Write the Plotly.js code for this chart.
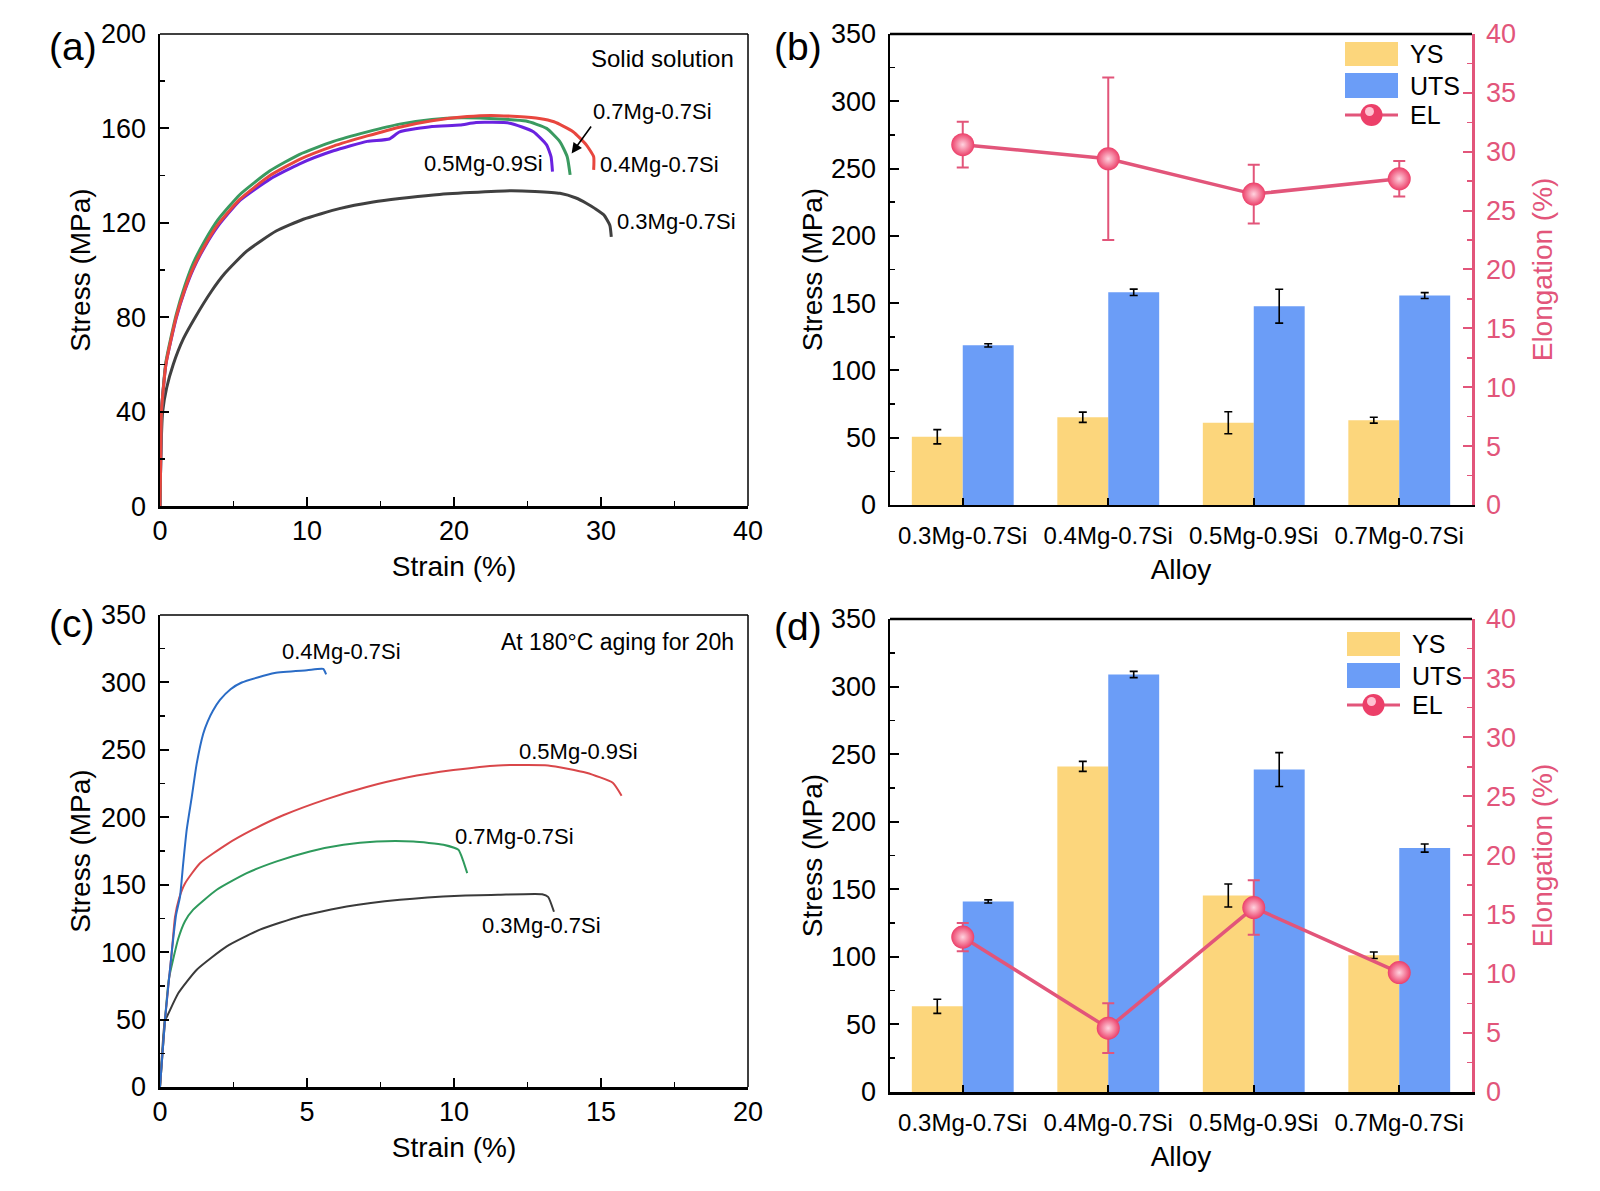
<!DOCTYPE html>
<html>
<head>
<meta charset="utf-8">
<script src="https://cdn.plot.ly/plotly-3.0.1.min.js"></script>
<style>
  html, body { margin: 0; padding: 0; background: #fff; }
  #chart { width: 1600px; height: 1191px; }
</style>
</head>
<body>
<div id="chart"></div>
<script>
// ---- (a) solid solution stress-strain curves ----
var aGrayX = [0, 0.05, 0.18, 0.45, 0.9, 1.6, 2.4, 3.5, 4.4, 5.9, 7.9, 9.75, 12.2, 14.5, 16.3, 18.6, 21.1, 23.8, 25.5, 27.2, 28.3, 29.0, 29.6, 30.2, 30.6, 30.7];
var aGrayY = [0, 20, 40, 50, 60, 71, 80, 91, 98.5, 108, 116.5, 121.5, 126, 128.8, 130.3, 131.8, 132.8, 133.6, 133.3, 132.5, 130.5, 128.3, 126, 123.3, 119, 114];

var aPurpleX = [0, 0.05, 0.1, 0.4, 1.1, 1.7, 2.27, 3.06, 3.97, 5.44, 7.48, 9.5, 11.8, 14.1, 15.6, 16.3, 18.5, 20.4, 21.5, 23.8, 25.4, 26.3, 26.6, 26.7];
var aPurpleY = [0, 20, 40, 60, 79.5, 91.5, 100.5, 110, 118.8, 129.5, 138.5, 145, 150.5, 154.5, 155.5, 158.5, 160.8, 161.4, 162.5, 162.2, 158.6, 153, 148, 141.7];

var aGreenX = [0, 0.05, 0.1, 0.4, 1.1, 1.7, 2.27, 3.06, 3.97, 5.44, 7.48, 9.5, 11.8, 14.1, 16.3, 18.5, 20.5, 23.1, 24.9, 26.3, 27.2, 27.7, 27.9];
var aGreenY = [0, 20, 40, 61, 81, 93.5, 103, 112.5, 121.5, 132, 142, 149, 154.5, 158.5, 161.8, 163.8, 164.5, 164, 163.1, 160, 154.4, 148, 140.3];

var aRedX = [0, 0.05, 0.1, 0.4, 1.1, 1.7, 2.27, 3.06, 3.97, 5.44, 7.48, 9.5, 11.8, 14.1, 16.3, 18.5, 20.9, 22.5, 24.3, 25.8, 26.8, 28.1, 29.0, 29.5, 29.5];
var aRedY = [0, 20, 40, 60, 80, 92, 101, 110.5, 119.5, 130, 140, 146.9, 152.5, 156.8, 160.5, 163.2, 165, 165.5, 165, 164.2, 162.8, 158.6, 153, 148, 142.4];

// ---- (c) aged at 180 C for 20 h ----
var cGrayX = [0, 0.17, 0.23, 0.62, 1.25, 2.27, 3.4, 4.76, 6.35, 8.16, 10.2, 11.5, 13.0, 13.2, 13.4];
var cGrayY = [0, 50, 52, 69.5, 87, 104.3, 116.7, 126.5, 133.9, 138.9, 141.9, 142.6, 143, 141, 130];

var cGreenX = [0, 0.17, 0.3, 0.45, 0.62, 0.85, 1.13, 1.93, 2.95, 3.97, 5.1, 6.24, 7.37, 8.62, 9.64, 10.15, 10.3, 10.45];
var cGreenY = [0, 50, 80, 95, 110, 123, 131.5, 146.3, 158.6, 167.3, 174.7, 179.6, 182, 182, 179.6, 175.9, 168.5, 158.6];

var cRedX = [0, 0.17, 0.4, 0.51, 0.65, 0.85, 1.36, 2.27, 3.17, 4.19, 5.67, 7.03, 8.39, 9.98, 11.5, 13.2, 14.5, 15.4, 15.7];
var cRedY = [0, 50, 100, 126, 140, 151, 166, 180, 191, 201.5, 213.5, 222.5, 229.5, 235, 238.5, 238.5, 233, 225.6, 216];

var cBlueX = [0, 0.17, 0.4, 0.55, 0.68, 0.79, 0.91, 1.08, 1.25, 1.47, 1.62, 1.8, 2.04, 2.4, 2.78, 3.9, 5.0, 5.55, 5.65];
var cBlueY = [0, 50, 100, 128, 141, 166, 191, 215, 240, 262, 271, 279, 287, 295, 300, 307, 309, 310, 306];

// ---- (b), (d) bar data ----
var alloys = ["0.3Mg-0.7Si", "0.4Mg-0.7Si", "0.5Mg-0.9Si", "0.7Mg-0.7Si"];

var bYS = [50.7, 65.2, 61.1, 63];
var bYSErr = [5.3, 3.8, 8.2, 2.2];
var bUTS = [118.6, 158, 147.7, 155.6];
var bUTSErr = [1.2, 2.4, 12.6, 2.2];
var bEL = [30.6, 29.4, 26.4, 27.7];
var bELErr = [1.95, 6.9, 2.5, 1.5];

var dYS = [63.4, 240.9, 145.4, 101.2];
var dYSErr = [5.2, 3.7, 8.5, 2.4];
var dUTS = [141, 308.9, 238.6, 180.5];
var dUTSErr = [1.2, 2.3, 12.5, 3];
var dEL = [13.1, 5.4, 15.6, 10.1];
var dELErr = [1.2, 2.1, 2.3, 0.6];

var W = 1600, H = 1191;
var FONT = "Liberation Sans, Arial, sans-serif";
var YS_COL = "#fcd67c", UTS_COL = "#6b9df7", EL_COL = "#e2557a";

function px(x) { return x / W; }
function py(y) { return 1 - y / H; }

function curve(x, y, color, w, xa, ya) {
  return { x: x, y: y, type: "scatter", mode: "lines", xaxis: xa, yaxis: ya,
           line: { color: color, width: w, shape: "spline", smoothing: 0.5 },
           showlegend: false, hoverinfo: "skip" };
}

function bars(y, err, color, xa, ya) {
  return { x: alloys, y: y, type: "bar", xaxis: xa, yaxis: ya,
           marker: { color: color, line: { width: 0 } },
           error_y: { type: "data", array: err, visible: true, color: "#000", thickness: 1.6, width: 4 },
           showlegend: false, hoverinfo: "skip" };
}

function elong(y, err, xa, ya) {
  return { x: alloys, y: y, type: "scatter", mode: "lines+markers", xaxis: xa, yaxis: ya,
           line: { color: EL_COL, width: 3.5 },
           marker: { size: 23, color: "#ec3f69", gradient: { type: "radial", color: "#ffd3df" }, line: { width: 0 } },
           error_y: { type: "data", array: err, visible: true, color: EL_COL, thickness: 2, width: 6 },
           showlegend: false, hoverinfo: "skip" };
}

var data = [
  curve(aGrayX, aGrayY, "#404040", 3, "x", "y"),
  curve(aPurpleX, aPurpleY, "#6a22e0", 3, "x", "y"),
  curve(aGreenX, aGreenY, "#3a9a60", 3, "x", "y"),
  curve(aRedX, aRedY, "#e8463e", 3, "x", "y"),
  bars(bYS, bYSErr, YS_COL, "x2", "y2"),
  bars(bUTS, bUTSErr, UTS_COL, "x2", "y2"),
  elong(bEL, bELErr, "x2", "y3"),
  curve(cGrayX, cGrayY, "#3a3a3a", 2, "x3", "y4"),
  curve(cGreenX, cGreenY, "#2e9a5c", 2, "x3", "y4"),
  curve(cRedX, cRedY, "#d9474a", 2, "x3", "y4"),
  curve(cBlueX, cBlueY, "#2a6cc6", 2, "x3", "y4"),
  bars(dYS, dYSErr, YS_COL, "x4", "y5"),
  bars(dUTS, dUTSErr, UTS_COL, "x4", "y5"),
  elong(dEL, dELErr, "x4", "y6")
];

var tickFont = { family: FONT, size: 27, color: "#000" };
var titleFont = { family: FONT, size: 28, color: "#000" };

function numAxis(domain, anchor, range, dtick, minor, title, standoff, labelOff) {
  return { domain: domain, anchor: anchor, range: range, dtick: dtick, tick0: 0,
           showgrid: false, zeroline: false, showline: true, linecolor: "#000", linewidth: 2.5,
           ticks: "inside", ticklen: 9, tickwidth: 2, tickcolor: "#000",
           minor: { ticks: "inside", ticklen: 5, tickwidth: 1.5, dtick: minor, tickcolor: "#000", showgrid: false },
           tickfont: tickFont, ticklabelstandoff: labelOff,
           title: { text: title, font: titleFont, standoff: standoff } };
}

var layout = {
  width: W, height: H,
  margin: { l: 0, r: 0, t: 0, b: 0 },
  paper_bgcolor: "#fff", plot_bgcolor: "#fff",
  font: { family: FONT, color: "#000" },
  barmode: "group", bargap: 0.3, bargroupgap: 0,
  showlegend: false,
  xaxis: numAxis([0.1, 0.4675], "y", [0, 40], 10, 5, "Strain (%)", 12, -1),
  yaxis: numAxis([0.5751, 0.9715], "x", [0, 200], 40, 20, "Stress (MPa)", 2, 6),
  xaxis3: numAxis([0.1, 0.4675], "y4", [0, 20], 5, 2.5, "Strain (%)", 12, -1),
  yaxis4: numAxis([0.0873, 0.4836], "x3", [0, 350], 50, 25, "Stress (MPa)", 2, 6),
  yaxis2: numAxis([0.576, 0.9715], "x2", [0, 350], 50, 25, "Stress (MPa)", 0, 6),
  yaxis5: numAxis([0.0831, 0.4803], "x4", [0, 350], 50, 25, "Stress (MPa)", 0, 6),
  annotations: [],
  shapes: []
};

function catAxis(domain, anchor) {
  return { domain: domain, anchor: anchor, type: "category", range: [-0.5, 3.5],
           showgrid: false, zeroline: false, showline: true, linecolor: "#000", linewidth: 2.5,
           ticks: "inside", ticklen: 7, tickwidth: 2, tickcolor: "#000",
           tickfont: { family: FONT, size: 24, color: "#000" }, ticklabelstandoff: 8,
           title: { text: "Alloy", font: titleFont, standoff: 11 } };
}
layout.xaxis2 = catAxis([0.55625, 0.92], "y2");
layout.xaxis4 = catAxis([0.55625, 0.92], "y5");

function elAxis(over, anchor) {
  return { overlaying: over, anchor: anchor, side: "right", range: [0, 40], dtick: 5, tick0: 0,
           showgrid: false, zeroline: false, showline: true, linecolor: EL_COL, linewidth: 2.5,
           ticks: "inside", ticklen: 9, tickwidth: 2, tickcolor: EL_COL,
           minor: { ticks: "inside", ticklen: 5, tickwidth: 1.5, dtick: 2.5, tickcolor: EL_COL, showgrid: false },
           tickfont: { family: FONT, size: 27, color: EL_COL }, ticklabelstandoff: 6,
           title: { text: "Elongation (%)", font: { family: FONT, size: 28, color: EL_COL }, standoff: 18 } };
}
layout.yaxis3 = elAxis("y2", "x2");
layout.yaxis6 = elAxis("y5", "x4");

// thin top / right frame lines
[["x", "y"], ["x3", "y4"]].forEach(function (p) {
  layout.shapes.push({ type: "line", xref: p[0] + " domain", yref: p[1] + " domain", x0: 0, x1: 1, y0: 1, y1: 1, line: { color: "#000", width: 1.5 } });
  layout.shapes.push({ type: "line", xref: p[0] + " domain", yref: p[1] + " domain", x0: 1, x1: 1, y0: 0, y1: 1, line: { color: "#000", width: 1.5 } });
});
[["x2", "y2"], ["x4", "y5"]].forEach(function (p) {
  layout.shapes.push({ type: "line", xref: p[0] + " domain", yref: p[1] + " domain", x0: 0, x1: 1, y0: 1, y1: 1, line: { color: "#000", width: 2.5 } });
});

// custom legends for (b) and (d)
function legend(xl, yTop) {
  var x0 = px(xl), x1 = px(xl + 53);
  layout.shapes.push({ type: "rect", xref: "paper", yref: "paper", x0: x0, x1: x1, y0: py(yTop), y1: py(yTop + 24), fillcolor: YS_COL, line: { width: 0 } });
  layout.shapes.push({ type: "rect", xref: "paper", yref: "paper", x0: x0, x1: x1, y0: py(yTop + 31), y1: py(yTop + 56), fillcolor: UTS_COL, line: { width: 0 } });
  layout.shapes.push({ type: "line", xref: "paper", yref: "paper", x0: x0, x1: x1, y0: py(yTop + 73), y1: py(yTop + 73), line: { color: EL_COL, width: 3 } });
  layout.shapes.push({ type: "circle", xref: "paper", yref: "paper", x0: px(xl + 15.5), x1: px(xl + 37.5), y0: py(yTop + 62), y1: py(yTop + 84), fillcolor: "#ec3f69", line: { width: 0 } });
  layout.shapes.push({ type: "circle", xref: "paper", yref: "paper", x0: px(xl + 20), x1: px(xl + 29), y0: py(yTop + 65), y1: py(yTop + 74), fillcolor: "#ffc2d2", line: { width: 0 } });
  var labels = ["YS", "UTS", "EL"], offs = [12, 44, 73];
  for (var i = 0; i < 3; i++) {
    layout.annotations.push({ xref: "paper", yref: "paper", x: px(xl + 63), y: py(yTop + offs[i]), text: labels[i],
      showarrow: false, xanchor: "left", yanchor: "middle", font: { family: FONT, size: 25, color: "#000" } });
  }
}
legend(1345, 42);
legend(1347, 632);

// panel letters
[["(a)", 72.5, 47], ["(b)", 798, 47], ["(c)", 71.5, 623], ["(d)", 798, 626]].forEach(function (t) {
  layout.annotations.push({ xref: "paper", yref: "paper", x: px(t[1]), y: py(t[2]), text: t[0], showarrow: false,
    xanchor: "center", yanchor: "middle", font: { family: FONT, size: 39, color: "#000" } });
});

function note(xa, ya, x, y, text, anchor, size) {
  layout.annotations.push({ xref: xa, yref: ya, x: x, y: y, text: text, showarrow: false,
    xanchor: anchor, yanchor: "middle", font: { family: FONT, size: size, color: "#000" } });
}
note("x", "y", 39.2, 189.5, "Solid solution", "right", 24);
note("x", "y", 33.5, 167, "0.7Mg-0.7Si", "center", 22);
note("x", "y", 34.0, 144.5, "0.4Mg-0.7Si", "center", 22);
note("x", "y", 22.0, 145.2, "0.5Mg-0.9Si", "center", 22);
note("x", "y", 35.15, 120.5, "0.3Mg-0.7Si", "center", 22);
layout.annotations.push({ xref: "x", yref: "y", axref: "x", ayref: "y", x: 28.0, y: 149.4, ax: 29.4, ay: 161.4,
  text: "", showarrow: true, arrowhead: 2, arrowsize: 1.3, arrowwidth: 1.6, arrowcolor: "#000" });

note("x3", "y4", 19.6, 330, "At 180°C aging for 20h", "right", 23);
note("x3", "y4", 6.19, 323, "0.4Mg-0.7Si", "center", 22);
note("x3", "y4", 14.25, 249, "0.5Mg-0.9Si", "center", 22);
note("x3", "y4", 12.07, 186, "0.7Mg-0.7Si", "center", 22);
note("x3", "y4", 12.96, 120, "0.3Mg-0.7Si", "center", 22);

Plotly.newPlot("chart", data, layout, { staticPlot: true });
</script>
</body>
</html>
